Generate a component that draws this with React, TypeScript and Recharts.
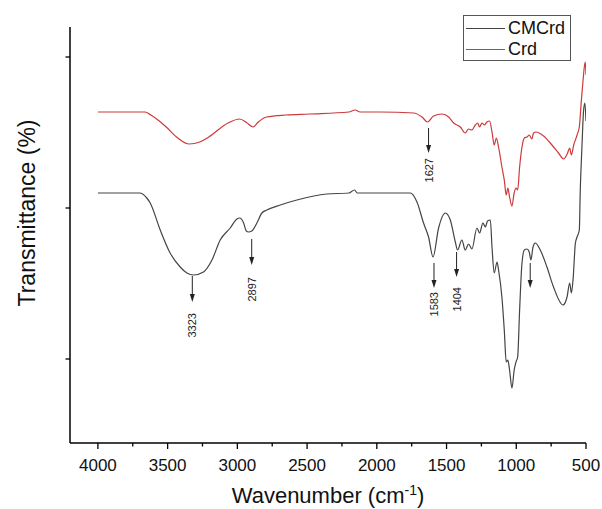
import React from "react";
import { LineChart, Line, XAxis, YAxis, Legend, ReferenceLine, ReferenceDot, Label } from "recharts";

// wavenumber (cm-1) and transmittance (arbitrary units, offset per curve)
const cmcrdWn = [4000, 3850, 3700, 3649, 3625, 3553, 3482, 3410, 3362, 3314, 3243, 3182, 3123, 3051, 3003, 2984, 2955, 2936, 2920, 2897, 2860, 2824, 2788, 2692, 2573, 2358, 2200, 2160, 2140, 2000, 1900, 1760, 1712, 1665, 1629, 1597, 1557, 1509, 1473, 1437, 1421, 1390, 1366, 1342, 1318, 1282, 1263, 1239, 1222, 1206, 1186, 1174, 1158, 1138, 1127, 1103, 1086, 1072, 1060, 1048, 1031, 1015, 1002, 990, 976, 959, 942, 923, 907, 895, 880, 864, 828, 780, 733, 665, 636, 617, 605, 593, 576, 564, 548, 541, 530, 517, 508, 500];
const cmcrdT = [250, 250, 250, 245, 240, 213, 190, 176, 170, 168, 171, 183, 203, 215, 224, 225, 220, 212, 211, 212, 220, 230, 233, 238, 243, 249, 250, 253, 250, 250, 250, 250, 241, 220, 206, 186, 215, 230, 223, 201, 193, 203, 193, 199, 194, 215, 210, 220, 216, 222, 223, 196, 170, 181, 173, 146, 113, 81, 83, 73, 55, 73, 81, 86, 133, 180, 193, 194, 191, 183, 196, 200, 193, 176, 156, 138, 146, 160, 150, 163, 200, 206, 213, 253, 293, 333, 340, 322];

const crdWn = [4000, 3850, 3662, 3620, 3560, 3510, 3427, 3345, 3270, 3205, 3067, 2984, 2930, 2887, 2850, 2790, 2650, 2485, 2200, 2155, 2120, 1976, 1736, 1676, 1636, 1593, 1533, 1485, 1449, 1401, 1366, 1342, 1318, 1294, 1277, 1263, 1246, 1229, 1210, 1191, 1174, 1158, 1143, 1127, 1103, 1086, 1072, 1060, 1048, 1031, 1015, 1002, 990, 976, 959, 942, 923, 907, 888, 876, 859, 804, 744, 697, 661, 632, 617, 605, 588, 564, 548, 533, 521, 512, 505, 500];
const crdT = [331, 331, 331, 328, 322, 316, 305, 299, 301, 306, 320, 324, 320, 316, 321, 326, 328, 329, 331, 333, 331, 331, 330, 326, 321, 327, 329, 326, 320, 316, 310, 314, 313, 318, 320, 316, 320, 318, 321, 322, 311, 298, 305, 296, 276, 263, 248, 255, 246, 237, 250, 255, 253, 276, 296, 305, 306, 308, 304, 310, 311, 307, 298, 290, 284, 290, 295, 288, 298, 308, 316, 343, 363, 376, 381, 368];

const xTicks = [4000, 3750, 3500, 3250, 3000, 2750, 2500, 2250, 2000, 1750, 1500, 1250, 1000, 750, 500];
const yTicks = [84, 235, 386];

// peak annotations: arrow position, arrow start/end, label top, label text
const peakAt = [3323, 2897, 1590, 1428, 900, 1629];
const peakFrom = [167, 204, 180, 191, 180, 315];
const peakTo = [141, 178, 155, 166, 155, 290];
const peakLabelAt = [130, 166, 151, 156, 0, 285];
const peakText = ["3323", "2897", "1583", "1404", "", "1627"];

const cmcrd = cmcrdWn.map((wn, i) => ({ wn, t: cmcrdT[i] }));
const crd = crdWn.map((wn, i) => ({ wn, t: crdT[i] }));

const FONT = "'Liberation Sans', Arial, sans-serif";

const XTick = (props: any) => {
  const { x, y, payload } = props;
  const major = payload.value % 500 === 0;
  return (
    <g>
      <line x1={x} x2={x} y1={y} y2={y + (major ? 6 : 3.5)} stroke="#000" strokeWidth={1.3} />
      {major && (
        <text x={x} y={y + 28} textAnchor="middle" fontSize={17} fill="#111">
          {payload.value}
        </text>
      )}
    </g>
  );
};

const YTick = (props: any) => {
  const { x, y } = props;
  return <line x1={x - 4.5} x2={x} y1={y} y2={y} stroke="#000" strokeWidth={1.3} />;
};

const XTitle = (props: any) => {
  const vb = props.viewBox;
  return (
    <text x={vb.x + vb.width / 2} y={vb.y + 60} textAnchor="middle" fontSize={22} fill="#111">
      Wavenumber (cm
      <tspan dy={-8} fontSize={14}>-1</tspan>
      <tspan dy={8}>)</tspan>
    </text>
  );
};

const YTitle = (props: any) => {
  const vb = props.viewBox;
  const cx = 35;
  const cy = vb.y + 186;
  return (
    <text x={cx} y={cy} textAnchor="middle" fontSize={23} fill="#111" transform={`rotate(-90 ${cx} ${cy})`}>
      Transmittance (%)
    </text>
  );
};

const Arrow = (props: any) => {
  const { x1, y1, x2, y2 } = props;
  return (
    <g>
      <line x1={x1} y1={y1} x2={x2} y2={y2 - 6} stroke="#222" strokeWidth={1} />
      <path d={`M${x2 - 2.5},${y2 - 8}L${x2 + 2.5},${y2 - 8}L${x2},${y2}Z`} fill="#222" />
    </g>
  );
};

const peakLabel = (text: string) => (props: any) => {
  const { cx, cy } = props;
  return (
    <text x={cx} y={cy + 4} textAnchor="end" fontSize={11} fill="#222" transform={`rotate(-90 ${cx} ${cy})`}>
      {text}
    </text>
  );
};

const LegendBox = (props: any) => {
  const { payload } = props;
  return (
    <div style={{ border: "1px solid #555", background: "#fff", padding: "2px 3px 0 2px", fontSize: 18, lineHeight: "21px", color: "#111" }}>
      {payload.map((p: any) => (
        <div key={p.value} style={{ display: "flex", alignItems: "center" }}>
          <span style={{ display: "inline-block", width: 39, borderTop: `1.3px solid ${p.color}`, marginRight: 3 }} />
          {p.value}
        </div>
      ))}
    </div>
  );
};

export default function App() {
  return (
    <div style={{ position: "absolute", left: 0, top: 0, fontFamily: FONT, background: "#fff" }}>
      <LineChart width={602} height={509} margin={{ top: 27, right: 16, bottom: 0, left: 0 }}>
        <XAxis
          type="number"
          dataKey="wn"
          domain={[500, 4200]}
          reversed
          allowDataOverflow
          ticks={xTicks}
          interval={0}
          tick={XTick}
          tickLine={false}
          tickSize={0}
          tickMargin={0}
          height={66}
          axisLine={{ stroke: "#000", strokeWidth: 1.5 }}
        >
          <Label content={XTitle} />
        </XAxis>
        <YAxis
          type="number"
          domain={[0, 416]}
          allowDataOverflow
          ticks={yTicks}
          interval={0}
          tick={YTick}
          tickLine={false}
          tickSize={0}
          tickMargin={0}
          width={70}
          axisLine={{ stroke: "#000", strokeWidth: 1.5 }}
        >
          <Label content={YTitle} />
        </YAxis>
        <Legend
          content={LegendBox}
          layout="horizontal"
          align="center"
          verticalAlign="middle"
          wrapperStyle={{ top: 15, left: 463, width: 108 }}
        />
        <Line data={cmcrd} dataKey="t" name="CMCrd" type="monotone" stroke="#444" strokeWidth={1.2} dot={false} isAnimationActive={false} />
        <Line data={crd} dataKey="t" name="Crd" type="monotone" stroke="#cc3a3a" strokeWidth={1.2} dot={false} isAnimationActive={false} />
        {peakAt.map((at, i) => (
          <ReferenceLine
            key={`a${i}`}
            segment={[{ x: at, y: peakFrom[i] }, { x: at, y: peakTo[i] }]}
            shape={Arrow}
          />
        ))}
        {peakAt.map((at, i) =>
          peakText[i] ? (
            <ReferenceDot key={`l${i}`} x={at} y={peakLabelAt[i]} r={1} shape={peakLabel(peakText[i])} />
          ) : null
        )}
      </LineChart>
    </div>
  );
}
